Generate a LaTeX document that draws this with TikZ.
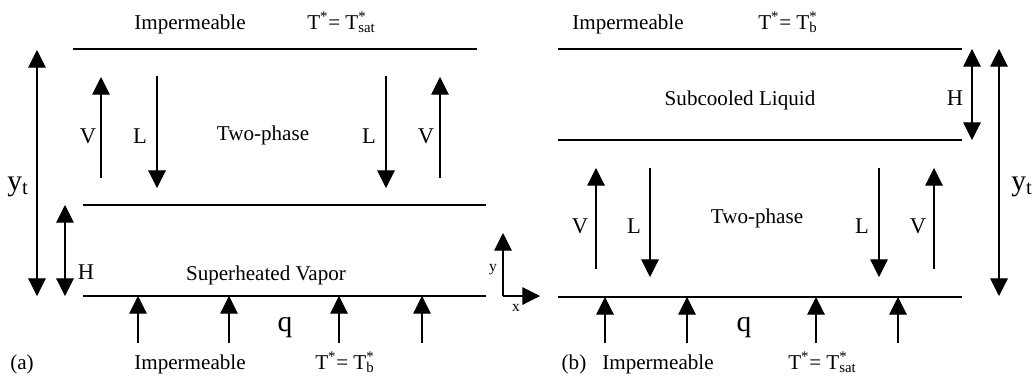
\documentclass[tikz,border=0pt]{standalone}
\usepackage{fontspec}
\setmainfont{Liberation Serif}
\usetikzlibrary{arrows.meta}

\newcommand{\Tsub}[1]{T\rlap{\textsuperscript{*}}\textsubscript{#1}}

\begin{document}
\begin{tikzpicture}[x=0.025cm,y=-0.025cm,
    txt/.style={font=\fontsize{15}{18}\selectfont,inner sep=0pt,anchor=base},
    sym/.style={font=\fontsize{16}{19}\selectfont,inner sep=0pt,anchor=base},
    bigsym/.style={font=\fontsize{21}{25}\selectfont,inner sep=0pt,anchor=base},
    axlbl/.style={font=\fontsize{11}{13}\selectfont,inner sep=0pt,anchor=base},
    wall/.style={line width=0.75pt},
    flow/.style={line width=0.75pt,-{Triangle[length=12.5pt,width=12.5pt]}},
    dimline/.style={line width=0.75pt,{Triangle[length=12.5pt,width=12.5pt]}-{Triangle[length=12.5pt,width=12.5pt]}}
]
\useasboundingbox (0,0) rectangle (1032,378);

% ---------- (a) ----------
\draw[wall] (73,49) -- (477,49);
\draw[wall] (83,205) -- (486,205);
\draw[wall] (83,296) -- (486,296);

\node[txt] (a-top) at (190,29) {Impermeable};
\node[txt,anchor=base west] (a-topT) at (307,29) {T\textsuperscript{*}= \Tsub{sat}};
\node[txt] (a-two) at (263,140) {Two-phase};
\node[txt] (a-vap) at (266,280) {Superheated Vapor};
\node[txt] (a-lbl) at (22,369) {(a)};
\node[txt] (a-bot) at (190,369) {Impermeable};
\node[txt,anchor=base west] (a-botT) at (315,369) {T\textsuperscript{*}= \Tsub{b}};

% total height and vapor layer
\coordinate (a-yt-t) at (37,50);
\coordinate (a-yt-b) at (37,296);
\draw[dimline] (a-yt-b) -- (a-yt-t);
\node[bigsym,anchor=base west] (a-yt) at (7,190) {y\textsubscript{t}};
\coordinate (a-H-t) at (65,205);
\coordinate (a-H-b) at (65,296);
\draw[dimline] (a-H-b) -- (a-H-t);
\node[sym] (a-H) at (86,279) {H};

% counter flow
\coordinate (a-v1-s) at (101,178);
\coordinate (a-v1-e) at (101,77);
\coordinate (a-l1-s) at (157,76);
\coordinate (a-l1-e) at (157,188);
\coordinate (a-l2-s) at (386,76);
\coordinate (a-l2-e) at (386,188);
\coordinate (a-v2-s) at (440,178);
\coordinate (a-v2-e) at (440,77);
\draw[flow] (a-v1-s) -- (a-v1-e);
\draw[flow] (a-l1-s) -- (a-l1-e);
\draw[flow] (a-l2-s) -- (a-l2-e);
\draw[flow] (a-v2-s) -- (a-v2-e);
\node[sym] (a-V1) at (88,143) {V};
\node[sym] (a-L1) at (140,143) {L};
\node[sym] (a-L2) at (369,143) {L};
\node[sym] (a-V2) at (426,143) {V};

% heat flux
\foreach \xq [count=\i] in {138,229,339,422} {
    \coordinate (a-q\i-s) at (\xq,343);
    \coordinate (a-q\i-e) at (\xq,296);
    \draw[flow] (a-q\i-s) -- (a-q\i-e);
}
\node[bigsym] (a-q) at (285,331) {q};

% axes
\coordinate (ax-o) at (503,296);
\coordinate (ax-y) at (503,233);
\coordinate (ax-x) at (540,296);
\draw[flow] (ax-o) -- (ax-y);
\draw[flow] (ax-o) -- (ax-x);
\node[axlbl] (ax-ylbl) at (493,271) {y};
\node[axlbl] (ax-xlbl) at (516,311) {x};

% ---------- (b) ----------
\draw[wall] (558,49) -- (962,49);
\draw[wall] (558,140) -- (962,140);
\draw[wall] (558,297) -- (962,297);

\node[txt] (b-top) at (628,29) {Impermeable};
\node[txt,anchor=base west] (b-topT) at (758,29) {T\textsuperscript{*}= \Tsub{b}};
\node[txt] (b-liq) at (740,105) {Subcooled Liquid};
\node[txt] (b-two) at (757,223) {Two-phase};
\node[txt] (b-lbl) at (574,369) {(b)};
\node[txt] (b-bot) at (658,369) {Impermeable};
\node[txt,anchor=base west] (b-botT) at (788,369) {T\textsuperscript{*}= \Tsub{sat}};

% liquid layer and total height
\coordinate (b-H-t) at (972,49);
\coordinate (b-H-b) at (972,140);
\draw[dimline] (b-H-b) -- (b-H-t);
\node[sym] (b-H) at (955,105) {H};
\coordinate (b-yt-t) at (999,49);
\coordinate (b-yt-b) at (999,296);
\draw[dimline] (b-yt-b) -- (b-yt-t);
\node[bigsym,anchor=base west] (b-yt) at (1011,190) {y\textsubscript{t}};

% counter flow
\coordinate (b-v1-s) at (596,269);
\coordinate (b-v1-e) at (596,168);
\coordinate (b-l1-s) at (650,168);
\coordinate (b-l1-e) at (650,277);
\coordinate (b-l2-s) at (879,168);
\coordinate (b-l2-e) at (879,277);
\coordinate (b-v2-s) at (934,269);
\coordinate (b-v2-e) at (934,168);
\draw[flow] (b-v1-s) -- (b-v1-e);
\draw[flow] (b-l1-s) -- (b-l1-e);
\draw[flow] (b-l2-s) -- (b-l2-e);
\draw[flow] (b-v2-s) -- (b-v2-e);
\node[sym] (b-V1) at (580,233) {V};
\node[sym] (b-L1) at (634,233) {L};
\node[sym] (b-L2) at (862,233) {L};
\node[sym] (b-V2) at (918,233) {V};

% heat flux
\foreach \xq [count=\i] in {605,687,816,898} {
    \coordinate (b-q\i-s) at (\xq,343);
    \coordinate (b-q\i-e) at (\xq,297);
    \draw[flow] (b-q\i-s) -- (b-q\i-e);
}
\node[bigsym] (b-q) at (744,331) {q};
\end{tikzpicture}
\end{document}
